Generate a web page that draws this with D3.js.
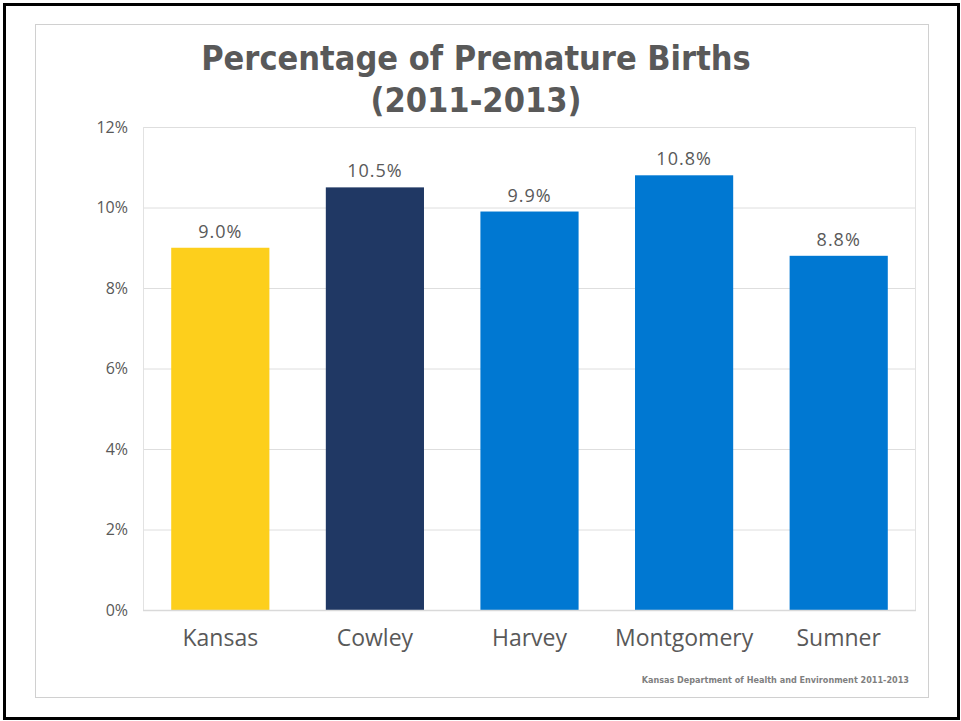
<!DOCTYPE html>
<html>
<head>
<meta charset="utf-8">
<script src="https://cdn.jsdelivr.net/npm/d3@7"></script>
<style>
  body { margin: 0; background: #fff; }
  svg { display: block; }
</style>
</head>
<body>
<svg id="chart" width="961" height="721"></svg>
<script>
// values
var counties = ["Kansas", "Cowley", "Harvey", "Montgomery", "Sumner"];
var premature_pct = [9.0, 10.5, 9.9, 10.8, 8.8];
var bar_colours = ["#FDCF1C", "#203864", "#0078D2", "#0078D2", "#0078D2"];
var y_ticks = [0, 2, 4, 6, 8, 10, 12];
var title_lines = ["Percentage of Premature Births", "(2011-2013)"];
var source_note = "Kansas Department of Health and Environment  2011-2013";

chart();

function chart() {
    var svg = d3.select("#chart");

    // page frame and chart frame
    svg.append("rect").attr("x", 4.5).attr("y", 4.5).attr("width", 954).attr("height", 714)
        .attr("fill", "none").attr("stroke", "#000").attr("stroke-width", 3);
    svg.append("rect").attr("x", 35.5).attr("y", 24.5).attr("width", 893).attr("height", 673)
        .attr("fill", "#fff").attr("stroke", "#d0d0d0").attr("stroke-width", 1);

    var plot = {left: 143, right: 916, top: 127, bottom: 610};

    var x = d3.scaleBand()
        .domain(counties)
        .range([plot.left, plot.right])
        .paddingInner(0.365)
        .paddingOuter(0.1825);

    var y = d3.scaleLinear()
        .domain([0, 12])
        .range([plot.bottom, plot.top]);

    // gridlines
    svg.append("g")
        .attr("transform", `translate(${plot.left},0)`)
        .call(d3.axisLeft(y).tickValues(y_ticks).tickSize(-(plot.right - plot.left)).tickFormat(""))
        .call(g => g.select(".domain").remove())
        .selectAll("line").attr("stroke", "#dedede").attr("stroke-width", 1);

    // plot area outline on left/right
    svg.append("line").attr("x1", plot.left + 0.5).attr("x2", plot.left + 0.5)
        .attr("y1", plot.top).attr("y2", plot.bottom).attr("stroke", "#e2e2e2");
    svg.append("line").attr("x1", plot.right - 0.5).attr("x2", plot.right - 0.5)
        .attr("y1", plot.top).attr("y2", plot.bottom).attr("stroke", "#e2e2e2");

    // y axis labels
    var yAxis = svg.append("g")
        .attr("transform", `translate(${plot.left},0)`)
        .call(d3.axisLeft(y).tickValues(y_ticks).tickSize(0).tickPadding(15).tickFormat(d => d + "%"));
    yAxis.select(".domain").remove();
    yAxis.selectAll("text")
        .attr("fill", "#595959")
        .style("font-family", "'Open Sans', 'Liberation Sans', sans-serif")
        .style("font-size", "16px");

    // bars
    svg.append("g").attr("class", "bars")
        .selectAll("rect")
        .data(counties)
        .join("rect")
        .attr("x", d => x(d))
        .attr("y", (d, i) => y(premature_pct[i]))
        .attr("width", x.bandwidth())
        .attr("height", (d, i) => y(0) - y(premature_pct[i]))
        .attr("fill", (d, i) => bar_colours[i]);

    // baseline
    svg.append("line").attr("x1", plot.left).attr("x2", plot.right)
        .attr("y1", plot.bottom + 0.5).attr("y2", plot.bottom + 0.5)
        .attr("stroke", "#d9d9d9").attr("stroke-width", 1.5);

    // data labels
    svg.append("g")
        .selectAll("text")
        .data(counties)
        .join("text")
        .attr("x", d => x(d) + x.bandwidth() / 2)
        .attr("y", (d, i) => y(premature_pct[i]) - 10)
        .attr("text-anchor", "middle")
        .attr("fill", "#595959")
        .style("font-family", "'Open Sans', 'Liberation Sans', sans-serif")
        .style("font-size", "18px")
        .style("letter-spacing", "1px")
        .text((d, i) => premature_pct[i].toFixed(1) + "%");

    // x axis labels
    var xAxis = svg.append("g")
        .attr("transform", `translate(0,${plot.bottom})`)
        .call(d3.axisBottom(x).tickSize(0).tickPadding(20));
    xAxis.select(".domain").remove();
    xAxis.selectAll("text")
        .attr("fill", "#595959")
        .style("font-family", "'Open Sans', 'Liberation Sans', sans-serif")
        .style("font-size", "23px");

    // title
    svg.append("g")
        .selectAll("text")
        .data(title_lines)
        .join("text")
        .attr("x", 476)
        .attr("y", (d, i) => 70 + i * 42)
        .attr("text-anchor", "middle")
        .attr("fill", "#595959")
        .style("font-family", "'DejaVu Sans Condensed', 'DejaVu Sans', sans-serif")
        .style("font-weight", "bold")
        .style("font-size", "34px")
        .text(d => d);

    // source note
    svg.append("text")
        .attr("x", 909)
        .attr("y", 683)
        .attr("text-anchor", "end")
        .attr("fill", "#7f7f7f")
        .style("font-family", "'DejaVu Sans Condensed', sans-serif")
        .style("font-weight", "bold")
        .style("font-size", "9px")
        .text(source_note);
}
</script>
</body>
</html>
